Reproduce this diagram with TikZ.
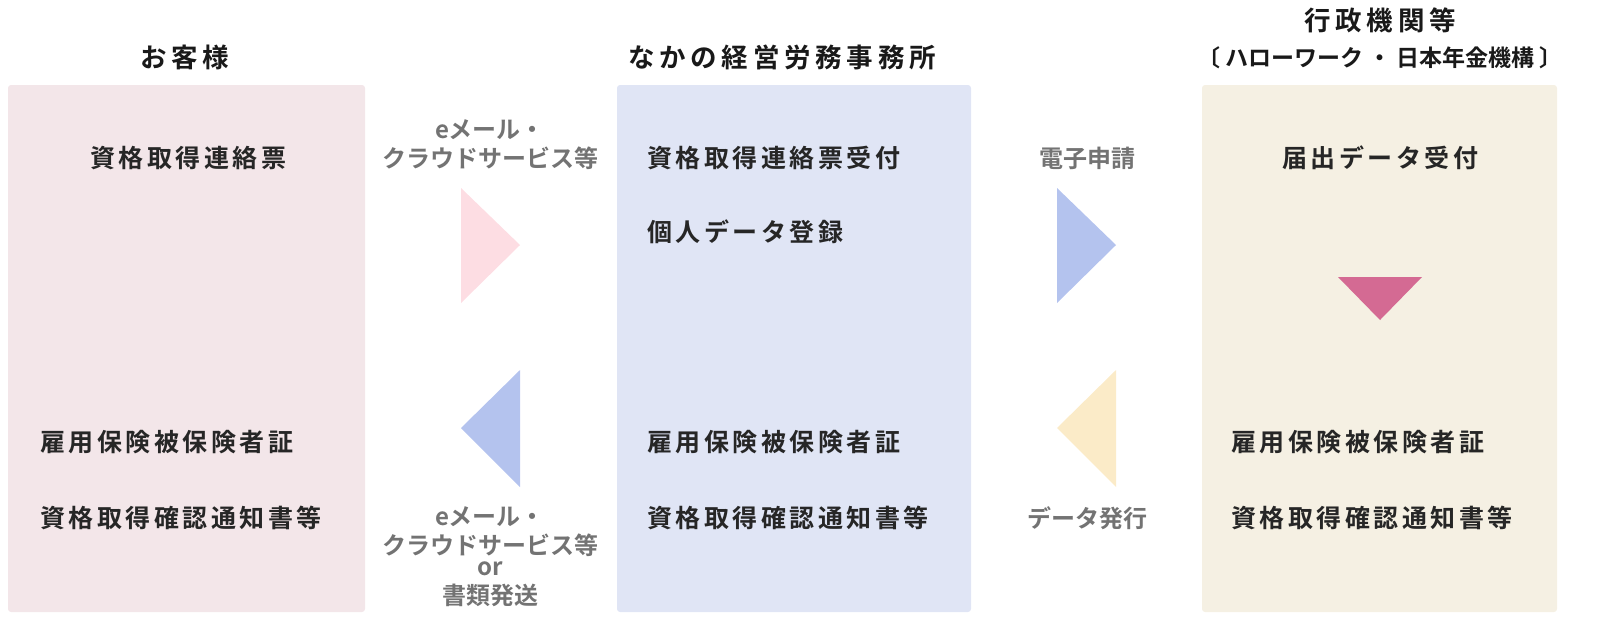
\documentclass[tikz,border=0pt]{standalone}
\usepackage{fontspec}
\newfontfamily\jp[LetterSpace=14]{Noto Sans CJK JP Bold}
\newfontfamily\jph[LetterSpace=18]{Noto Sans CJK JP Bold}
\newfontfamily\jpg{Noto Sans CJK JP Bold}
\begin{document}
\begin{tikzpicture}[x=1pt,y=-1pt,
  lab/.style={font=\jp\fontsize{25}{28}\selectfont,text=black!85,inner sep=0},
  gl/.style={font=\jpg\fontsize{24}{26}\selectfont,text=black!55,inner sep=0},
  hd/.style={font=\jph\fontsize{26.5}{30}\selectfont,text=black!90,inner sep=0}]
\definecolor{pk}{HTML}{F3E6E9}\definecolor{bl}{HTML}{E0E5F5}\definecolor{bg}{HTML}{F5F0E3}
\definecolor{tpk}{HTML}{FDDDE3}\definecolor{tbl}{HTML}{B4C3EE}\definecolor{tye}{HTML}{FBEBC8}\definecolor{tmg}{HTML}{D46A93}
\useasboundingbox (0,0) rectangle (1601,633);
\fill[pk,rounded corners=3] (8,85) rectangle (365,612);
\fill[bl,rounded corners=3] (617,85) rectangle (971,612);
\fill[bg,rounded corners=3] (1202,85) rectangle (1557,612);
\node[hd] (h1) at (185,57) {お客様};
\node[hd] (h2) at (782,57) {なかの経営労務事務所};
\node[hd] (h3) at (1380,20) {行政機関等};
\node[hd,font=\jpg\fontsize{23}{26}\selectfont] (h4) at (1380,58) {〔 ハローワーク ・ 日本年金機構 〕};
\fill[tpk] (461,188) -- (461,303) -- (520,245) -- cycle;
\fill[tbl] (520,370) -- (520,487) -- (461,428) -- cycle;
\fill[tbl] (1057,188) -- (1057,303) -- (1116,245) -- cycle;
\fill[tye] (1116,370) -- (1116,487) -- (1057,428) -- cycle;
\fill[tmg] (1338,277) -- (1422,277) -- (1380,320) -- cycle;
\node[gl] (g1) at (490,130) {eメール・};
\node[gl] (g2) at (490,158) {クラウドサービス等};
\node[gl] (g3) at (490,517) {eメール・};
\node[gl] (g4) at (490,545) {クラウドサービス等};
\node[gl] (g5) at (490,569) {or};
\node[gl] (g6) at (490,595) {書類発送};
\node[gl] (g7) at (1087,158) {電子申請};
\node[gl] (g8) at (1087,518) {データ発行};
\node[lab] (a1) at (188,158) {資格取得連絡票};
\node[lab,anchor=west] (a2) at (40,442) {雇用保険被保険者証};
\node[lab,anchor=west] (a3) at (40,518) {資格取得確認通知書等};
\node[lab,anchor=west] (b1) at (647,158) {資格取得連絡票受付};
\node[lab,anchor=west] (b2) at (647,232) {個人データ登録};
\node[lab,anchor=west] (b3) at (647,442) {雇用保険被保険者証};
\node[lab,anchor=west] (b4) at (647,518) {資格取得確認通知書等};
\node[lab] (c1) at (1380,158) {届出データ受付};
\node[lab,anchor=west] (c2) at (1231,442) {雇用保険被保険者証};
\node[lab,anchor=west] (c3) at (1231,518) {資格取得確認通知書等};
\end{tikzpicture}
\end{document}
